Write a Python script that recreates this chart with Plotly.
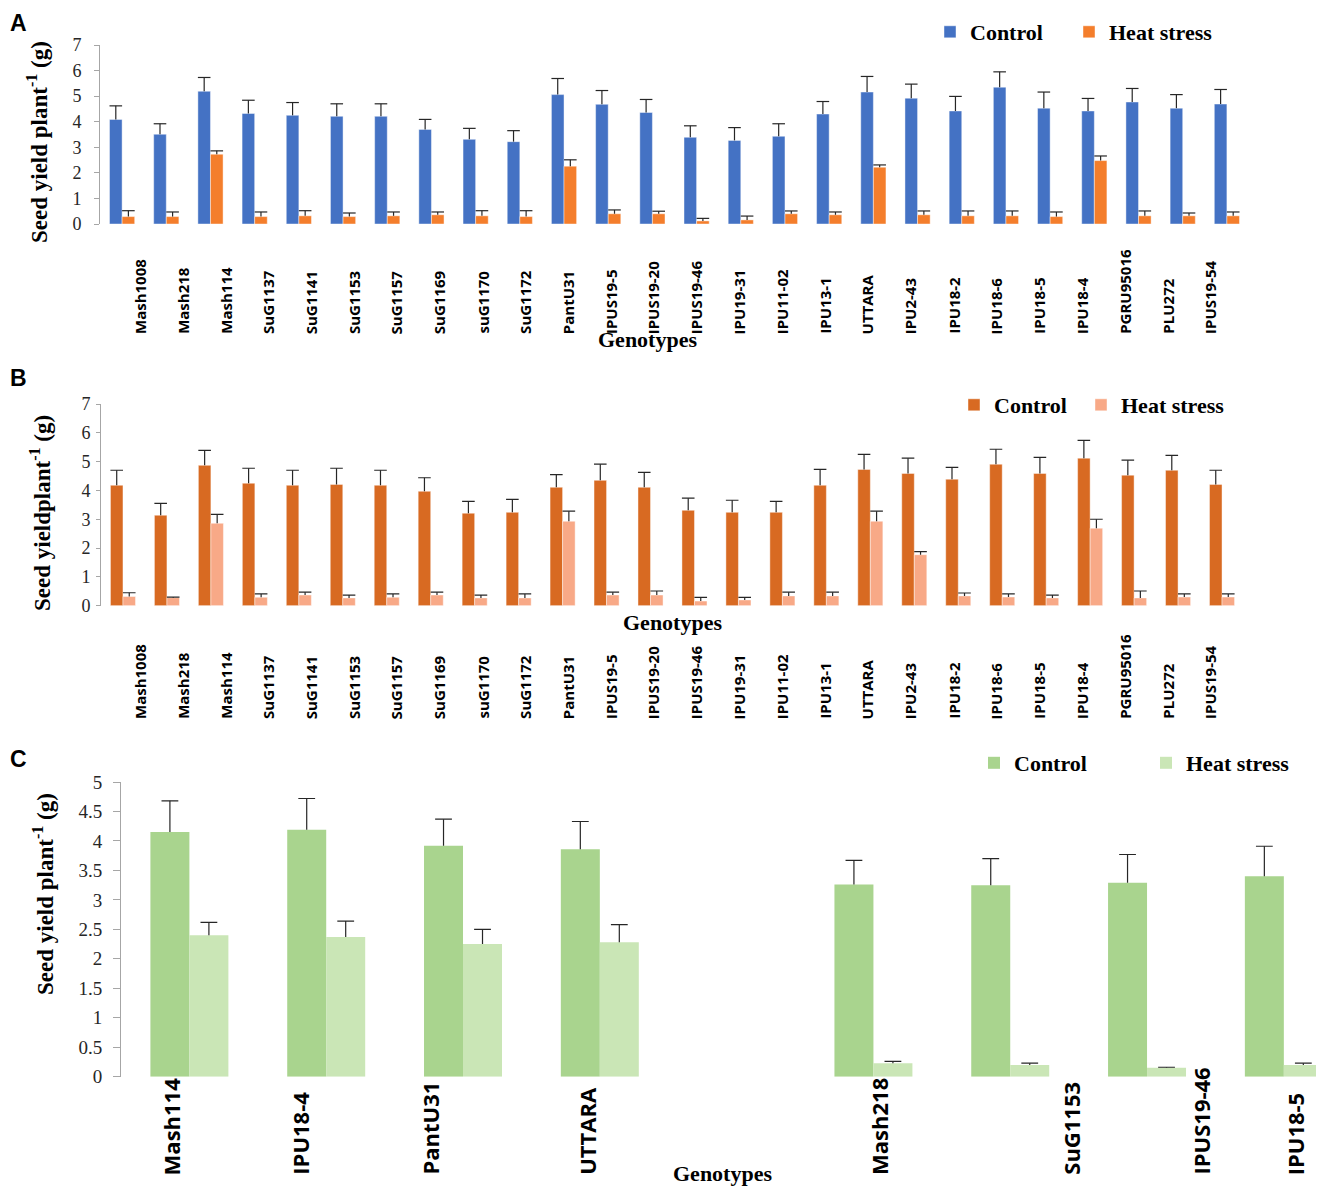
import plotly.graph_objects as go

# genotypes shown in panels A and B
genotypes = ["Mash1008", "Mash218", "Mash114", "SuG1137", "SuG1141", "SuG1153",
             "SuG1157", "SuG1169", "suG1170", "SuG1172", "PantU31", "IPUS19-5",
             "IPUS19-20", "IPUS19-46", "IPU19-31", "IPU11-02", "IPU13-1", "UTTARA",
             "IPU2-43", "IPU18-2", "IPU18-6", "IPU18-5", "IPU18-4", "PGRU95016",
             "PLU272", "IPUS19-54"]

# panel A - seed yield per plant (g)
a_control = [4.09, 3.51, 5.19, 4.32, 4.25, 4.21, 4.21, 3.70, 3.31, 3.22, 5.06, 4.68, 4.36,
             3.39, 3.27, 3.43, 4.30, 5.16, 4.92, 4.42, 5.35, 4.53, 4.42, 4.77, 4.53, 4.69]
a_control_se = [0.53, 0.41, 0.54, 0.52, 0.50, 0.49, 0.49, 0.39, 0.43, 0.43, 0.63, 0.54, 0.51,
                0.45, 0.50, 0.49, 0.49, 0.61, 0.55, 0.57, 0.60, 0.63, 0.49, 0.53, 0.53, 0.57]
a_heat = [0.29, 0.29, 2.73, 0.29, 0.32, 0.29, 0.32, 0.36, 0.32, 0.29, 2.26, 0.40, 0.40,
          0.12, 0.16, 0.40, 0.36, 2.22, 0.36, 0.32, 0.32, 0.29, 2.48, 0.32, 0.32, 0.32]
a_heat_se = [0.23, 0.18, 0.13, 0.18, 0.20, 0.14, 0.15, 0.11, 0.20, 0.23, 0.25, 0.15, 0.10,
             0.10, 0.15, 0.11, 0.11, 0.09, 0.15, 0.19, 0.19, 0.18, 0.18, 0.19, 0.11, 0.15]

# panel B
b_control = [4.18, 3.14, 4.87, 4.25, 4.18, 4.21, 4.18, 3.97, 3.21, 3.24, 4.11, 4.35, 4.11,
             3.31, 3.24, 3.24, 4.18, 4.73, 4.59, 4.39, 4.91, 4.59, 5.12, 4.53, 4.70, 4.21]
b_control_se = [0.52, 0.41, 0.52, 0.52, 0.52, 0.56, 0.52, 0.47, 0.41, 0.45, 0.44, 0.56, 0.52,
                0.42, 0.42, 0.38, 0.55, 0.52, 0.53, 0.41, 0.52, 0.56, 0.62, 0.52, 0.52, 0.49]
b_heat = [0.32, 0.28, 2.86, 0.29, 0.37, 0.27, 0.29, 0.37, 0.27, 0.27, 2.93, 0.37, 0.37,
          0.16, 0.20, 0.34, 0.34, 2.93, 1.77, 0.34, 0.30, 0.27, 2.69, 0.27, 0.30, 0.30]
b_heat_se = [0.13, 0.02, 0.31, 0.12, 0.10, 0.10, 0.12, 0.10, 0.10, 0.14, 0.35, 0.10, 0.14,
             0.13, 0.09, 0.13, 0.13, 0.35, 0.11, 0.10, 0.11, 0.10, 0.31, 0.24, 0.11, 0.11]

# panel C - selected tolerant / susceptible genotypes
c_genotypes = ["Mash114", "IPU18-4", "PantU31", "UTTARA",
               "Mash218", "SuG1153", "IPUS19-46", "IPU18-5"]
c_control = [4.15, 4.19, 3.92, 3.86, 3.26, 3.25, 3.29, 3.40]
c_control_se = [0.53, 0.53, 0.45, 0.47, 0.41, 0.45, 0.48, 0.51]
c_heat = [2.40, 2.37, 2.25, 2.28, 0.23, 0.20, 0.15, 0.20]
c_heat_se = [0.22, 0.27, 0.25, 0.30, 0.03, 0.03, 0.01, 0.03]

W, H = 1324, 1188
PAGE = 8  # browser body margin around the figure


def px(x):
    return (x - PAGE) / W


def py(y):
    return 1 - (y - PAGE) / H


SERIF = "Liberation Serif"
SANS = "Open Sans"
ERR = "#262626"
AXIS = "#A6A6A6"


def add_panel(fig, xa, ya, legend, cats, ctrl, ctrl_se, heat, heat_se, colors, cap, edge,
              ctrl_width):
    series = [("Control", ctrl, ctrl_se, colors[0], "c", ctrl_width),
              ("Heat stress", heat, heat_se, colors[1], "h", 130)]
    for name, vals, se, col, og, lw in series:
        fig.add_trace(go.Bar(
            x=cats, y=vals, name=name, offsetgroup=og, legendwidth=lw,
            marker=dict(color=col, line=dict(color=edge, width=0.8 if edge else 0)),
            xaxis=xa, yaxis=ya, legend=legend, hoverinfo="skip"))
    # error bars: stem down to the bar top plus a cap on top only
    for name, vals, se, col, og, lw in series:
        tops = [v + e for v, e in zip(vals, se)]
        fig.add_trace(go.Scatter(
            x=cats, y=tops, mode="markers", offsetgroup=og,
            marker=dict(symbol="line-ew", size=cap, color=ERR,
                        line=dict(color=ERR, width=1.2)),
            error_y=dict(type="data", symmetric=False, array=[0] * len(se),
                         arrayminus=se, width=0, thickness=1.2, color=ERR),
            xaxis=xa, yaxis=ya, showlegend=False, hoverinfo="skip"))


fig = go.Figure()
add_panel(fig, "x", "y", "legend", genotypes, a_control, a_control_se, a_heat, a_heat_se,
          ["#4472C4", "#F47E2C"], 9, "rgba(255,255,255,0.55)", 139 - 45)
add_panel(fig, "x2", "y2", "legend2", genotypes, b_control, b_control_se, b_heat, b_heat_se,
          ["#D86A22", "#F8A987"], 9, "rgba(255,255,255,0.55)", 127 - 45)
add_panel(fig, "x3", "y3", "legend3", c_genotypes, c_control, c_control_se, c_heat, c_heat_se,
          ["#A9D48E", "#CAE6B6"], 12, None, 172 - 45)

# panel C keeps an empty slot between the two genotype groups
c_order = c_genotypes[:4] + [" "] + c_genotypes[4:]

xcommon = dict(type="category", showticklabels=False, showline=False, ticks="",
               showgrid=False, zeroline=False, fixedrange=True, automargin=False)


def yaxis(anchor, domain, rng, dtick, ticklen, standoff, size):
    return dict(anchor=anchor, domain=domain, range=rng, dtick=dtick, showline=True,
                linecolor=AXIS, linewidth=1, ticks="outside", ticklen=ticklen,
                tickcolor=AXIS, tickwidth=1, showgrid=False, zeroline=False,
                ticklabelstandoff=standoff, fixedrange=True, automargin=False,
                tickfont=dict(family=SERIF, size=size, color="#262626"))


def legend(xc, yc):
    return dict(orientation="h", x=px(xc - 26), xanchor="left", y=py(yc), yanchor="middle",
                bgcolor="rgba(0,0,0,0)",
                font=dict(family=SERIF, size=22, color="black", weight="bold"))


annotations = []


def note(text, x, y, size, family=SERIF, angle=0, xref="paper", yanchor="middle",
         xanchor="center", xshift=0):
    annotations.append(dict(
        text=text, x=x, y=y, xref=xref, yref="paper", showarrow=False,
        textangle=angle, xanchor=xanchor, yanchor=yanchor, xshift=xshift,
        font=dict(family=family, size=size, color="black", weight="bold")))


# panel letters
note("A", 0, 1, 23, family="Liberation Sans", xanchor="left", yanchor="top")
note("B", 0, py(378), 23, family="Liberation Sans", xanchor="left")
note("C", 0, py(759), 23, family="Liberation Sans", xanchor="left")

# y titles
note("Seed yield plant<sup>-1</sup> (g)", px(38), py(142), 23, angle=-90)
note("Seed yieldplant<sup>-1</sup> (g)", px(40), py(513), 23, angle=-90)
note("Seed yield plant<sup>-1</sup> (g)", px(43), py(894), 23, angle=-90)

# x titles
note("Genotypes", px(647), py(340), 22)
note("Genotypes", px(672), py(623), 22)
note("Genotypes", px(722), py(1173), 22)

# genotype labels of A and B (evenly spaced on their own hidden axis)
for i, g in enumerate(genotypes):
    note(g, i, py(336), 15, family=SANS, angle=-90, xref="x4", yanchor="bottom")
    note(g, i, py(721), 15, family=SANS, angle=-90, xref="x4", yanchor="bottom")

# genotype labels of C, nudged as in the original
c_label_nudge = [-18, -27, -34, -13, 5, 60, 53, 11]
for g, dx in zip(c_genotypes, c_label_nudge):
    note(g, g, py(1177), 22, family=SANS, angle=-90, xref="x3", yanchor="bottom", xshift=dx)

fig.update_layout(
    width=W, height=H,
    margin=dict(l=0, r=0, t=0, b=0, autoexpand=False),
    paper_bgcolor="white", plot_bgcolor="rgba(0,0,0,0)",
    barmode="group", bargap=0.43, bargroupgap=0,
    scattermode="group", scattergap=0.43,
    xaxis=dict(xcommon, anchor="y", domain=[px(100), px(1249)], range=[-0.5, 25.5]),
    yaxis=yaxis("x", [py(224), py(45)], [0, 7], 1, 5, 9, 18),
    xaxis2=dict(xcommon, anchor="y2", domain=[px(101), px(1244)], range=[-0.5, 25.5]),
    yaxis2=yaxis("x2", [py(605.7), py(404)], [0, 7], 1, 4, 2, 18),
    xaxis3=dict(xcommon, anchor="y3", domain=[px(121), 1.0], range=[-0.5, 8.352],
                categoryorder="array", categoryarray=c_order),
    yaxis3=yaxis("x3", [py(1076.7), py(782)], [0, 5], 0.5, 7, 7, 19),
    # hidden axis that spaces the A/B genotype labels like the original
    xaxis4=dict(anchor="y4", domain=[px(118.1), px(1231.4)], range=[-0.5, 25.5],
                type="linear", visible=False, fixedrange=True, automargin=False),
    yaxis4=dict(anchor="x4", domain=[0, 0.01], range=[0, 1], visible=False,
                fixedrange=True, automargin=False),
    legend=legend(956, 32),
    legend2=legend(980, 405),
    legend3=legend(1000, 763),
    annotations=annotations,
    showlegend=True,
    hovermode=False,
)

fig.write_html("out.html")
